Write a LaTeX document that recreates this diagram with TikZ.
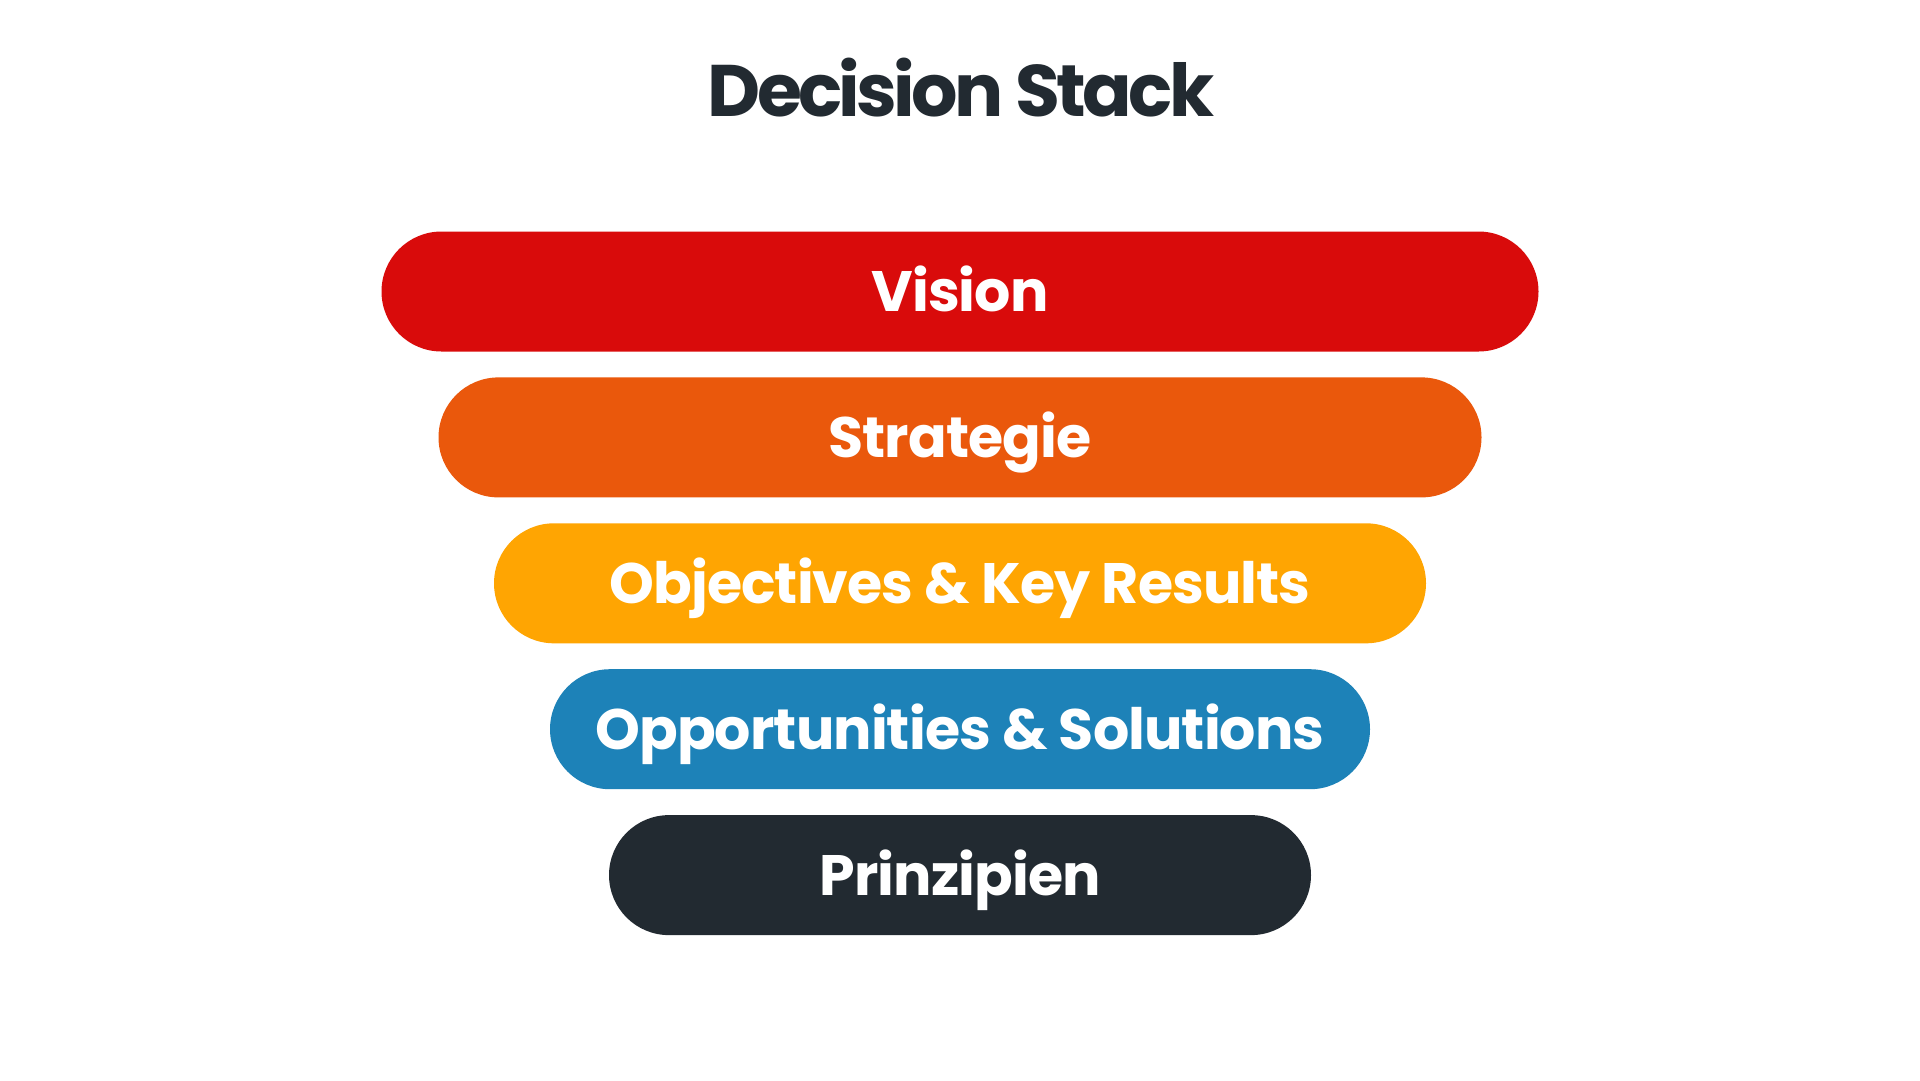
\documentclass[tikz,border=0pt]{standalone}
\usepackage{fontspec}
\setmainfont{Poppins}
\definecolor{cvision}{HTML}{D90B0B}
\definecolor{cstrat}{HTML}{EA580C}
\definecolor{cokr}{HTML}{FFA502}
\definecolor{copp}{HTML}{1D82B8}
\definecolor{cprin}{HTML}{222A31}
\begin{document}
\begin{tikzpicture}[x=1pt,y=-1pt,
  bar/.style={fill=#1, draw=none, rounded corners=60pt, minimum height=120pt, inner sep=0pt,
    text=white, font=\fontsize{57}{68}\selectfont\bfseries\addfontfeatures{LetterSpace=-1.6},
    text height=40pt, text depth=0pt},
  titletext/.style={text=cprin, font=\fontsize{73}{88}\selectfont\bfseries\addfontfeatures{LetterSpace=-5},
    anchor=base, inner sep=0pt}]
\useasboundingbox[fill=white] (0,0) rectangle (1920,1080);
\node[titletext] (title) at (961,116) {Decision Stack};
\node[bar=cvision, minimum width=1157pt] (vision) at (960,291.5) {Vision};
\node[bar=cstrat, minimum width=1043pt] (strat) at (960,437.4) {Strategie};
\node[bar=cokr, minimum width=932pt] (okr) at (960,583.3) {Objectives \& Key Results};
\node[bar=copp, minimum width=820pt] (opp) at (960,729.2) {Opportunities \& Solutions};
\node[bar=cprin, minimum width=702pt] (prin) at (960,875.1) {Prinzipien};
\end{tikzpicture}
\end{document}
